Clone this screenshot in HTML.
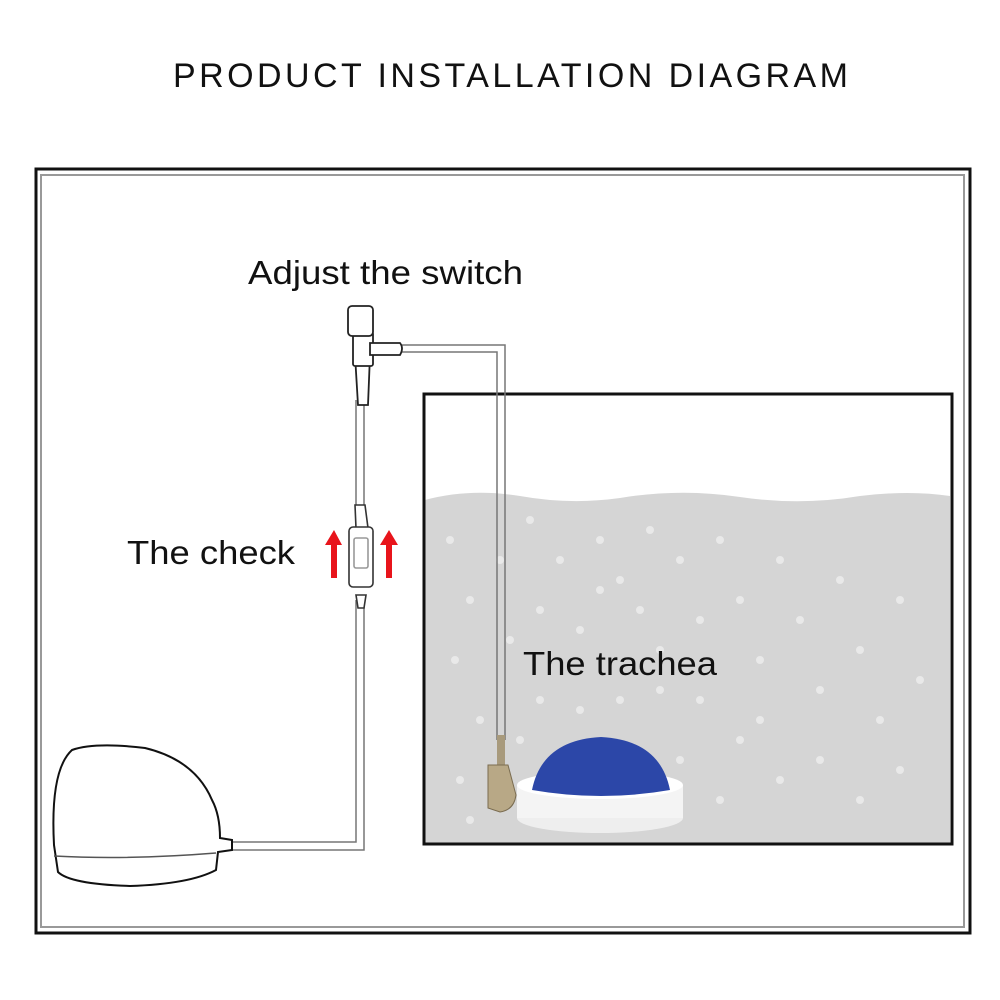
<!DOCTYPE html>
<html><head><meta charset="utf-8"><style>html,body{margin:0;padding:0;background:#fff}svg{display:block}</style></head>
<body>
<svg width="1000" height="1000" viewBox="0 0 1000 1000" xmlns="http://www.w3.org/2000/svg" font-family="Liberation Sans, Arial, sans-serif">
<rect width="1000" height="1000" fill="#fff"/>
<text x="173" y="87" font-size="34" textLength="675" lengthAdjust="spacing" fill="#111">PRODUCT INSTALLATION DIAGRAM</text>
<rect x="36" y="169" width="934" height="764" fill="none" stroke="#111" stroke-width="3"/>
<rect x="41" y="175" width="923" height="752" fill="none" stroke="#999" stroke-width="2"/>
<path d="M425 500 Q470 488 520 496 Q570 505 620 498 Q680 488 740 497 Q800 506 860 496 Q910 490 950 496 L950 843 L425 843 Z" fill="#d5d5d5"/>
<g fill="#e9e9e9">
<circle cx="450" cy="540" r="4"/><circle cx="470" cy="600" r="4"/><circle cx="455" cy="660" r="4"/><circle cx="480" cy="720" r="4"/><circle cx="460" cy="780" r="4"/>
<circle cx="530" cy="520" r="4"/><circle cx="560" cy="560" r="4"/><circle cx="540" cy="610" r="4"/><circle cx="580" cy="630" r="4"/><circle cx="600" cy="540" r="4"/>
<circle cx="620" cy="580" r="4"/><circle cx="650" cy="530" r="4"/><circle cx="640" cy="610" r="4"/><circle cx="680" cy="560" r="4"/><circle cx="700" cy="620" r="4"/>
<circle cx="720" cy="540" r="4"/><circle cx="740" cy="600" r="4"/><circle cx="760" cy="660" r="4"/><circle cx="780" cy="560" r="4"/><circle cx="800" cy="620" r="4"/>
<circle cx="820" cy="690" r="4"/><circle cx="840" cy="580" r="4"/><circle cx="860" cy="650" r="4"/><circle cx="880" cy="720" r="4"/><circle cx="900" cy="600" r="4"/>
<circle cx="700" cy="700" r="4"/><circle cx="740" cy="740" r="4"/><circle cx="780" cy="780" r="4"/><circle cx="720" cy="800" r="4"/><circle cx="680" cy="760" r="4"/>
<circle cx="820" cy="760" r="4"/><circle cx="860" cy="800" r="4"/><circle cx="900" cy="770" r="4"/><circle cx="920" cy="680" r="4"/><circle cx="760" cy="720" r="4"/>
<circle cx="540" cy="700" r="4"/><circle cx="580" cy="710" r="4"/><circle cx="620" cy="700" r="4"/><circle cx="520" cy="740" r="4"/><circle cx="660" cy="690" r="4"/>
<circle cx="500" cy="560" r="4"/><circle cx="510" cy="640" r="4"/><circle cx="470" cy="820" r="4"/><circle cx="600" cy="590" r="4"/><circle cx="660" cy="650" r="4"/>
</g>
<text x="523" y="675" font-size="33" textLength="194" lengthAdjust="spacingAndGlyphs" fill="#111">The trachea</text>
<rect x="424" y="394" width="528" height="450" fill="none" stroke="#111" stroke-width="3"/>
<g fill="none" stroke="#777" stroke-width="1.5">
<path d="M233 842 H356 V600"/><path d="M233 850 H364 V600"/>
<path d="M356 530 V400"/><path d="M364 530 V400"/>
<path d="M402 345 H505 V740"/><path d="M402 352 H497 V740"/>
</g>
<g fill="#fff" stroke="#222" stroke-width="1.8">
<path d="M355 355 L358 405 L368 405 L370 355 Z"/>
<rect x="353" y="332" width="20" height="34" rx="2"/>
<path d="M370 343 H400 Q404 348 400 355 H370 Z"/>
<rect x="348" y="306" width="25" height="30" rx="4"/>
</g>
<g fill="#fff" stroke="#333" stroke-width="1.6">
<path d="M355 505 L365 505 L368 528 L356 528 Z"/>
<path d="M356 595 L366 595 L364 608 L358 608 Z"/>
<rect x="349" y="527" width="24" height="60" rx="4"/>
<rect x="354" y="538" width="14" height="30" rx="2" stroke="#999"/>
</g>
<g fill="#e8141b">
<path d="M334 530 L342 545 L337 545 L337 578 L331 578 L331 545 L325 545 Z"/>
<path d="M389 530 L398 545 L392 545 L392 578 L386 578 L386 545 L380 545 Z"/>
</g>
<text x="127" y="564" font-size="33" textLength="168" lengthAdjust="spacingAndGlyphs" fill="#111">The check</text>
<text x="248" y="284" font-size="33" textLength="275" lengthAdjust="spacingAndGlyphs" fill="#111">Adjust the switch</text>
<path d="M54 845 Q50 770 72 750 Q95 742 145 748 Q195 760 212 800 Q220 815 220 838 L232 840 L232 850 L218 852 L216 870 Q190 884 130 886 Q70 884 58 872 Z" fill="#fff" stroke="#111" stroke-width="2"/>
<path d="M54 856 Q130 860 216 853" fill="none" stroke="#555" stroke-width="1.5"/>
<rect x="497" y="735" width="8" height="30" fill="#a89a7c"/>
<path d="M488 765 L508 765 L516 795 Q514 810 500 812 L488 808 Z" fill="#b8a886" stroke="#7a6c50" stroke-width="1"/>
<ellipse cx="600" cy="818" rx="83" ry="15" fill="#eee"/>
<rect x="517" y="785" width="166" height="33" fill="#f4f4f4"/>
<ellipse cx="600" cy="785" rx="83" ry="14" fill="#fff"/>
<path d="M532 790 Q542 740 601 737 Q660 740 670 790 Q601 802 532 790 Z" fill="#2c47a8"/>
</svg>
</body></html>
